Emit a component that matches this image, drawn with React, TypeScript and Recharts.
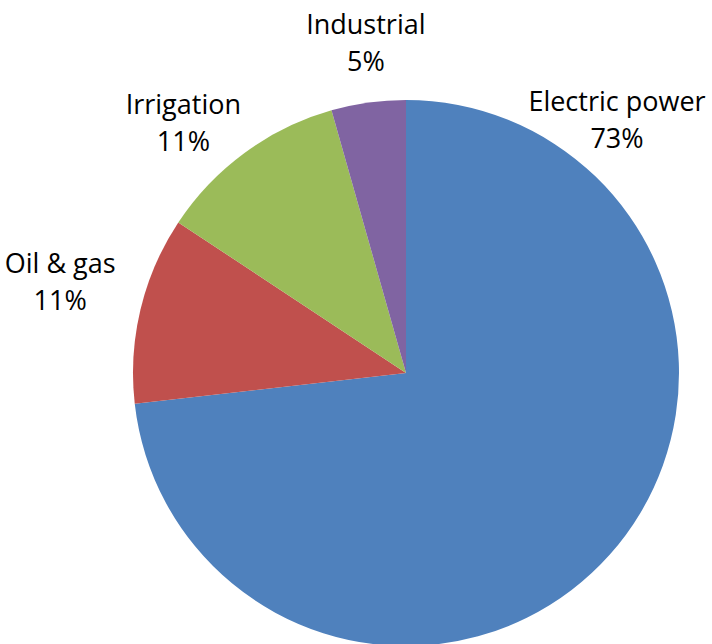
import { PieChart, Pie, Cell } from 'recharts';

const categories = ['Electric power', 'Oil & gas', 'Irrigation', 'Industrial'];
const shares = [73.2, 11.1, 11.3, 4.4];
const percentLabels = ['73%', '11%', '11%', '5%'];
const colors = ['#4F81BD', '#C0504D', '#9BBB59', '#8064A2'];

const data = categories.map((name, i) => ({ name, value: shares[i] }));

// Excel "best fit" label spots, as angle (deg, ccw from 3 o'clock) and distance from centre
const labelSpots = [
  { angle: 50.4, dist: 331 },
  { angle: 165, dist: 358 },
  { angle: 131.5, dist: 336 },
  { angle: 96.9, dist: 334 },
];

const RAD = Math.PI / 180;

function renderLabel(props: any) {
  const { cx, cy, index } = props;
  const spot = labelSpots[index];
  const x = cx + spot.dist * Math.cos(spot.angle * RAD);
  const y = cy - spot.dist * Math.sin(spot.angle * RAD);
  return (
    <text
      x={x}
      y={y}
      textAnchor="middle"
      fill="#000"
      fontSize={27}
      fontFamily="'Open Sans', sans-serif"
    >
      <tspan x={x} dy={-7}>
        {categories[index]}
      </tspan>
      <tspan x={x} dy={37}>
        {percentLabels[index]}
      </tspan>
    </text>
  );
}

export default function App() {
  return (
    <div style={{ position: 'absolute', left: 0, top: 0 }}>
      <PieChart width={712} height={644} margin={{ top: 0, right: 0, bottom: 0, left: 0 }}>
        <Pie
          data={data}
          dataKey="value"
          nameKey="name"
          cx={406}
          cy={373}
          outerRadius={273}
          startAngle={90}
          endAngle={-270}
          stroke="none"
          label={renderLabel}
          labelLine={false}
          isAnimationActive={false}
        >
          {data.map((d, i) => (
            <Cell key={d.name} fill={colors[i]} />
          ))}
        </Pie>
      </PieChart>
    </div>
  );
}
